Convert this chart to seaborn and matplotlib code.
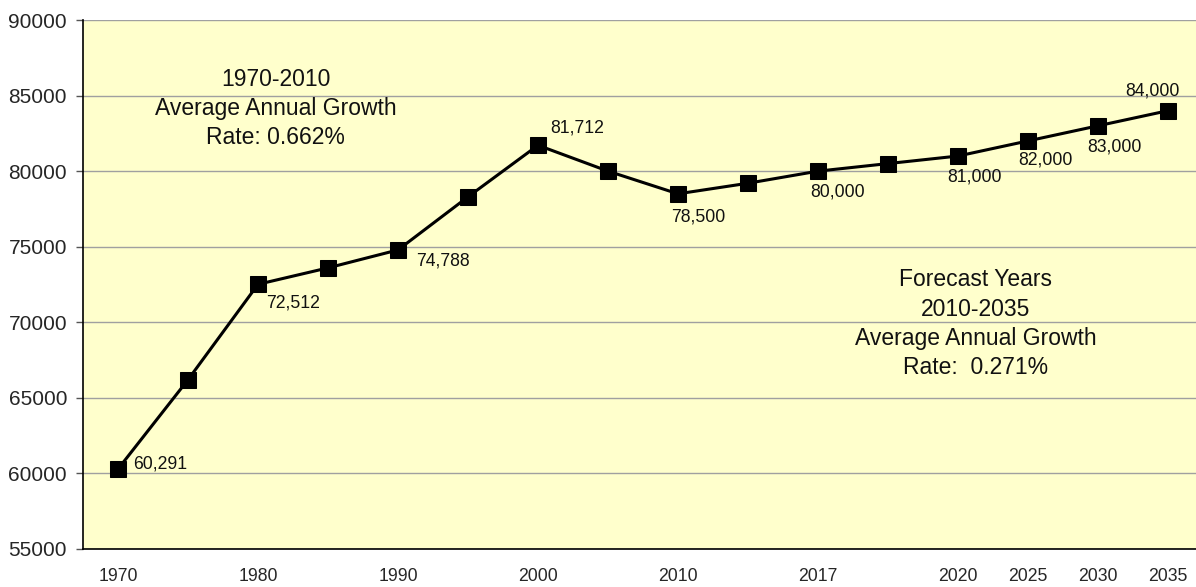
import numpy as np
import pandas as pd
import matplotlib
matplotlib.use("Agg")
import matplotlib.pyplot as plt
import seaborn as sns

# datos
slots = list(range(16))
tick_labels = ["1970", "", "1980", "", "1990", "", "2000", "", "2010", "",
               "2017", "", "2020", "2025", "2030", "2035"]
values = [60291, 66200, 72512, 73600, 74788, 78300, 81712, 80000, 78500,
          79200, 80000, 80500, 81000, 82000, 83000, 84000]
labeled = [0, 2, 4, 6, 8, 10, 12, 13, 14, 15]

note_hist = "1970-2010\nAverage Annual Growth\nRate: 0.662%"
note_fore = "Forecast Years\n2010-2035\nAverage Annual Growth\nRate:  0.271%"

df = pd.DataFrame({"slot": slots, "value": values})

sns.set_style("white")
plt.rcParams["font.family"] = ["Liberation Sans", "DejaVu Sans"]

fig = plt.figure(figsize=(11.96, 5.87), dpi=100)
ax = fig.add_axes([83 / 1196, 38 / 587, 1120 / 1196, 529 / 587])
ax.set_facecolor("#FFFFCC")

sns.lineplot(data=df, x="slot", y="value", ax=ax, color="black", linewidth=2.2,
             marker="s", markersize=12, markerfacecolor="black",
             markeredgecolor="black", zorder=3)

# etiquetas de datos (desplazamiento en puntos, alineacion)
offsets = {0: (11, 3.6, "left"), 2: (5.8, -13.7, "left"), 4: (13, -8, "left"),
           6: (8.6, 12.2, "left"), 8: (-5, -16.6, "left"), 10: (-5.8, -15, "left"),
           12: (-8, -15, "left"), 13: (-7, -13.7, "left"), 14: (-8, -15, "left"),
           15: (-11, 14.4, "center")}
for i in labeled:
    dx, dy, ha = offsets[i]
    ax.annotate(f"{values[i]:,}", (slots[i], values[i]), xytext=(dx, dy),
                textcoords="offset points", ha=ha, va="center", fontsize=12.7,
                color="#111111")

ax.set_xlim(-0.5, 15.5)
ax.set_ylim(55000, 90000)
ax.set_yticks(range(55000, 90001, 5000))
ax.set_yticklabels([str(v) for v in range(55000, 90001, 5000)])
ax.yaxis.grid(True, color="#A0A0A0", linewidth=1)
ax.set_axisbelow(True)

ax.set_xticks(np.arange(-0.5, 16, 1))
ax.set_xticklabels([])
ax.set_xticks(slots, minor=True)
ax.set_xticklabels(tick_labels, minor=True)
ax.tick_params(axis="x", which="major", length=4, width=1, color="black",
               direction="out")
ax.tick_params(axis="x", which="minor", length=0, pad=13.5, labelsize=12.7)
ax.tick_params(axis="y", length=5, width=1, color="#555555", pad=6.5,
               labelsize=15, left=True)
ax.set_xlabel("")
ax.set_ylabel("")

for s in ["top", "right"]:
    ax.spines[s].set_visible(False)
for s in ["left", "bottom"]:
    ax.spines[s].set_color("black")
    ax.spines[s].set_linewidth(1.2)

ax.text(2.25, 84150, note_hist, ha="center", va="center", fontsize=16.5,
        linespacing=1.35, color="#111111")
ax.text(12.25, 69900, note_fore, ha="center", va="center", fontsize=16.5,
        linespacing=1.35, color="#111111")

fig.savefig("out.png", dpi=100)
